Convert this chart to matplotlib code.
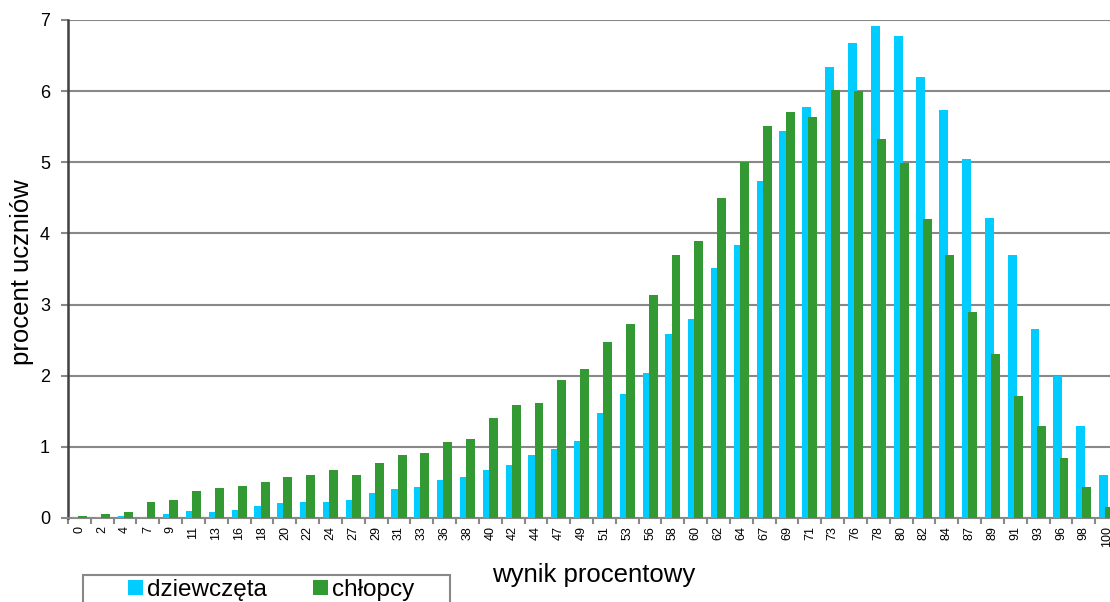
import matplotlib
matplotlib.use('Agg')
import matplotlib.pyplot as plt
from matplotlib.patches import Rectangle
import numpy as np

plt.rcParams['font.family'] = ['Liberation Sans', 'DejaVu Sans']

wyniki = ['0', '2', '4', '7', '9', '11', '13', '16', '18', '20', '22', '24', '27', '29', '31',
          '33', '36', '38', '40', '42', '44', '47', '49', '51', '53', '56', '58', '60', '62',
          '64', '67', '69', '71', '73', '76', '78', '80', '82', '84', '87', '89', '91', '93',
          '96', '98', '100']

dziewczeta = [0.02, 0.01, 0.03, 0.02, 0.05, 0.10, 0.09, 0.11, 0.17, 0.21, 0.22, 0.22, 0.26,
              0.35, 0.41, 0.43, 0.54, 0.57, 0.67, 0.75, 0.89, 0.97, 1.08, 1.47, 1.74, 2.04,
              2.58, 2.80, 3.52, 3.84, 4.74, 5.44, 5.78, 6.34, 6.68, 6.92, 6.77, 6.20, 5.74,
              5.05, 4.22, 3.69, 2.66, 1.99, 1.29, 0.60]

chlopcy = [0.03, 0.05, 0.09, 0.22, 0.26, 0.38, 0.42, 0.45, 0.51, 0.57, 0.60, 0.68, 0.61,
           0.78, 0.89, 0.91, 1.07, 1.11, 1.41, 1.59, 1.62, 1.94, 2.10, 2.48, 2.72, 3.14,
           3.69, 3.89, 4.50, 5.00, 5.51, 5.70, 5.63, 6.02, 6.00, 5.33, 4.99, 4.20, 3.69,
           2.89, 2.30, 1.71, 1.29, 0.85, 0.44, 0.15]

x = np.arange(len(wyniki))

W, H = 1110, 602
fig = plt.figure(figsize=(W / 100, H / 100), dpi=100)
ax = fig.add_axes([68 / W, 1 - 518 / H, 1050 / W, 498 / H])

ax.bar(x - 0.135, dziewczeta, width=0.39, color='#00ccff', label='dziewczęta', zorder=3)
ax.bar(x + 0.135, chlopcy, width=0.39, color='#339933', label='chłopcy', zorder=4)

ax.set_xlim(-0.5, len(wyniki) - 0.5)
ax.set_ylim(0, 7)
ax.set_yticks(range(0, 8))
ax.yaxis.grid(True, color='#888888', linewidth=1.5, zorder=0)
ax.set_axisbelow(True)

ax.set_xticks(x)
ax.set_xticklabels(wyniki, rotation=90, fontsize=9)
ax.set_xticks(np.arange(-0.5, len(wyniki), 1), minor=True)
ax.tick_params(axis='x', which='major', length=0, pad=6)
ax.tick_params(axis='x', which='minor', length=4, width=1.5, color='#888888')
ax.tick_params(axis='y', length=5, width=1.5, color='#888888', labelsize=13, pad=8)

for s in ['top', 'right']:
    ax.spines[s].set_visible(False)
ax.spines['left'].set_color('#404040')
ax.spines['left'].set_linewidth(1.8)
ax.spines['bottom'].set_color('#888888')
ax.spines['bottom'].set_linewidth(1.5)

fig.text(22 / W, 1 - 272 / H, 'procent uczniów', rotation=90, fontsize=18.5,
         ha='center', va='center')
fig.text(594 / W, 1 - 575 / H, 'wynik procentowy', fontsize=18.5,
         ha='center', va='center')

# ramka legendy (wychodzi poza dolna krawedz jak w oryginale)
fig.patches.append(Rectangle((83 / W, 1 - 640 / H), 367 / W, 65 / H,
                             transform=fig.transFigure, fill=False,
                             edgecolor='#888888', linewidth=1.5))

leg = fig.legend(loc='center left', bbox_to_anchor=(128 / W, 1 - 590 / H), ncol=2,
                 fontsize=17.5, frameon=False, handlelength=0.62,
                 handleheight=0.62, handletextpad=0.17, columnspacing=1.9,
                 borderpad=0, borderaxespad=0)

fig.savefig('out.png', dpi=100)
